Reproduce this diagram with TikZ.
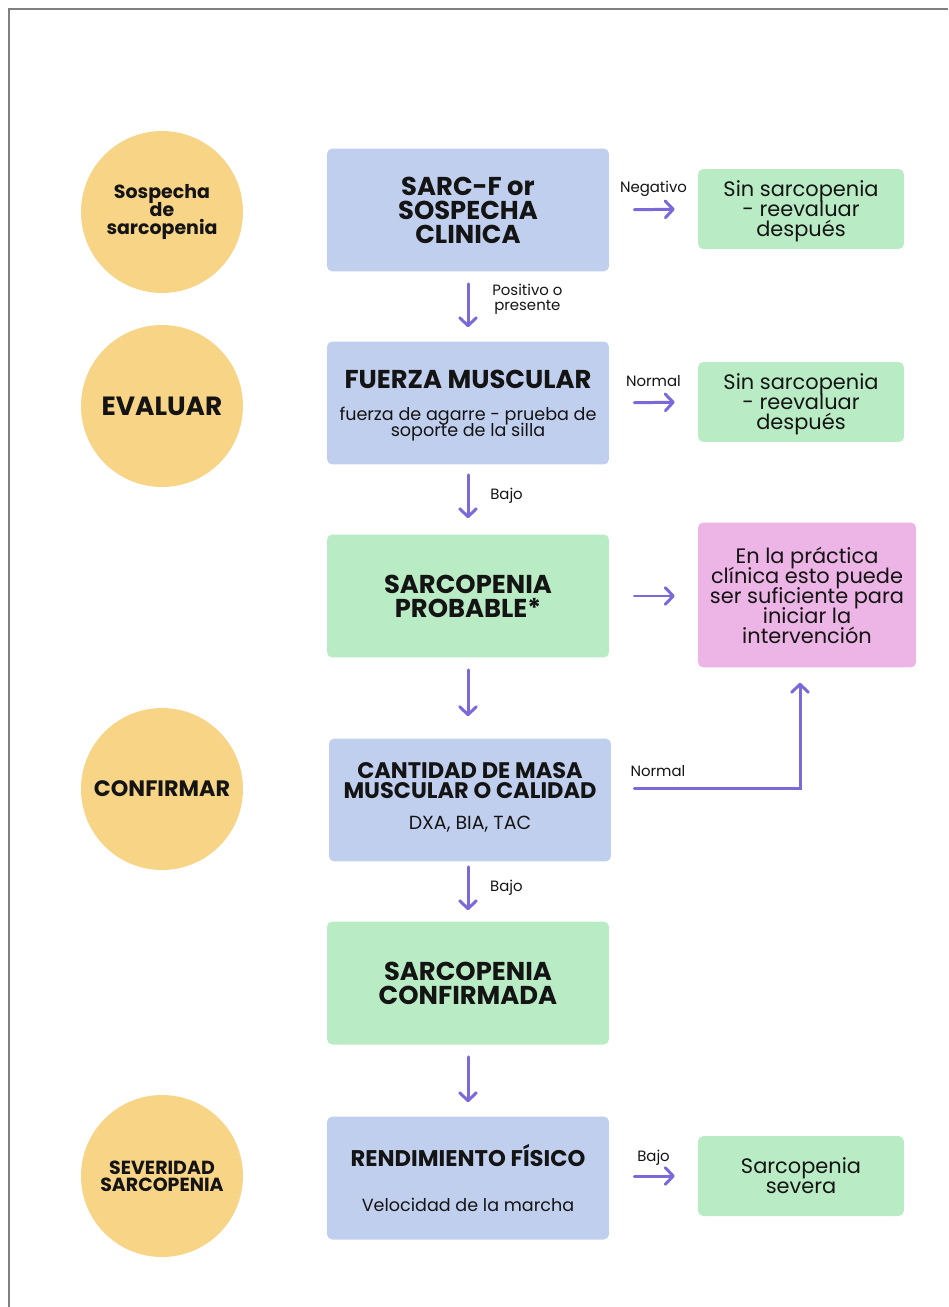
\documentclass[tikz,border=0pt]{standalone}
\usepackage{fontspec}
\setmainfont{Poppins}
\usetikzlibrary{arrows.meta}
\definecolor{amarillo}{HTML}{F7D486}
\definecolor{azulcaja}{HTML}{C1CFEE}
\definecolor{verdecaja}{HTML}{B9ECC5}
\definecolor{rosacaja}{HTML}{EDB4E6}
\definecolor{morado}{HTML}{7B68D9}
\definecolor{tinta}{HTML}{141414}
\lineskiplimit=-10pt
\newcommand{\detalle}[1]{{\fontseries{m}\fontsize{10}{11}\selectfont #1}}
\tikzset{
  etapa/.style={circle, fill=amarillo, minimum size=3.24cm, inner sep=0pt, align=center, text=tinta},
  caja/.style={rectangle, rounded corners=3pt, minimum width=5.64cm, minimum height=2.46cm,
    inner sep=2pt, align=center, text=tinta, font=\bfseries\fontsize{14.7}{13.7}\selectfont},
  nota/.style={rectangle, rounded corners=3pt, fill=verdecaja, minimum width=4.12cm, minimum height=1.6cm,
    inner sep=2pt, align=center, text=tinta, text depth=0pt, font=\fontsize{11.9}{11.4}\selectfont},
  flecha/.style={-{Straight Barb[round, length=4.5pt, width=9.5pt]}, draw=morado, line width=1.7pt, line cap=round},
  etiqueta/.style={font=\fontsize{8.5}{8.7}\selectfont, text=tinta, inner sep=1pt, align=center},
  marco/.style={draw=gray, line width=1.2pt}
}
\begin{document}
\begin{tikzpicture}[x=0.02cm, y=-0.02cm]
\useasboundingbox (0,0) rectangle (948,1307);
\draw[marco] (9,1307) -- (9,9) -- (948,9);

% etapas
\node[etapa, font=\bfseries\fontsize{10.8}{10.5}\selectfont] (sospecha) at (162,212) {Sospecha\\de\\sarcopenia};
\node[etapa, font=\bfseries\fontsize{15}{15}\selectfont] (evaluar) at (162,406) {EVALUAR};
\node[etapa, font=\bfseries\fontsize{12.7}{12}\selectfont] (confirmar) at (162,789) {CONFIRMAR};
\node[etapa, font=\bfseries\fontsize{10.8}{9.7}\selectfont] (severidad) at (162,1176) {SEVERIDAD\\SARCOPENIA};

% columna central
\node[caja, fill=azulcaja] (sarcf) at (468,210) {SARC-F or\\SOSPECHA\\CLINICA};
\node[caja, fill=azulcaja, text depth=-3pt] (fuerza) at (468,403) {FUERZA MUSCULAR\\[4.5pt]\detalle{fuerza de agarre - prueba de}\\[-4.6pt]\detalle{soporte de la silla}};
\node[caja, fill=verdecaja] (probable) at (468,596) {SARCOPENIA\\PROBABLE*};
\node[caja, fill=azulcaja, text depth=5pt, font=\bfseries\fontsize{12.8}{11.8}\selectfont] (masa) at (470,800) {CANTIDAD DE MASA\\MUSCULAR O CALIDAD\\[5.5pt]{\fontseries{m}\fontsize{10.8}{11}\selectfont DXA, BIA, TAC}};
\node[caja, fill=verdecaja] (confirmada) at (468,983) {SARCOPENIA\\CONFIRMADA};
\node[caja, fill=azulcaja, font=\bfseries\fontsize{12.9}{12}\selectfont] (rendimiento) at (468,1178) {RENDIMIENTO FÍSICO\\[13.5pt]\detalle{Velocidad de la marcha}};

% columna derecha
\node[nota] (sin1) at (801,209) {Sin sarcopenia\\- reevaluar\\después};
\node[nota] (sin2) at (801,402) {Sin sarcopenia\\- reevaluar\\después};
\node[nota, fill=rosacaja, text depth=-2pt, minimum width=4.36cm, minimum height=2.9cm] (practica) at (807,595) {En la práctica\\clínica esto puede\\ser suficiente para\\iniciar la\\intervención};
\node[nota] (severa) at (801,1176) {Sarcopenia\\severa};

% flechas verticales
\draw[flecha, shorten <=0.24cm, shorten >=0.28cm] (sarcf) -- (fuerza)
  node[etiqueta, midway, right=0.42cm, yshift=0.14cm] {Positivo o\\presente};
\draw[flecha, shorten <=0.2cm, shorten >=0.32cm] (fuerza) -- (probable)
  node[etiqueta, midway, right=0.38cm, yshift=0.08cm] {Bajo};
\draw[flecha, shorten <=0.24cm, shorten >=0.44cm] (probable.south) -- (probable.south |- masa.north);
\draw[flecha, shorten <=0.1cm, shorten >=0.22cm] (probable.south |- masa.south) -- (confirmada);
\draw[flecha, shorten <=0.24cm, shorten >=0.28cm] (confirmada) -- (rendimiento);
\node[etiqueta, anchor=west] (bajo2) at (488,888) {Bajo};

% flechas horizontales
\draw[flecha, shorten <=0.5cm, shorten >=0.46cm] (sarcf.east) -- (sin1.west)
  node[etiqueta, midway, above=0.2cm] {Negativo};
\draw[flecha, shorten <=0.5cm, shorten >=0.46cm] (fuerza.east) -- (sin2.west)
  node[etiqueta, midway, above=0.26cm] {Normal};
\draw[flecha, shorten <=0.5cm, shorten >=0.46cm] (probable.east) -- (practica.west |- probable.east);
\draw[flecha, shorten <=0.5cm, shorten >=0.46cm] (rendimiento.east |- severa.west) -- (severa.west)
  node[etiqueta, midway, above=0.14cm] {Bajo};
\draw[flecha, shorten >=0.3cm] ([shift={(23,-12)}]masa.east) node[etiqueta, anchor=south west, xshift=-0.14cm, yshift=0.16cm] {Normal}
  -| ([xshift=-0.14cm]practica.south);
\end{tikzpicture}
\end{document}
